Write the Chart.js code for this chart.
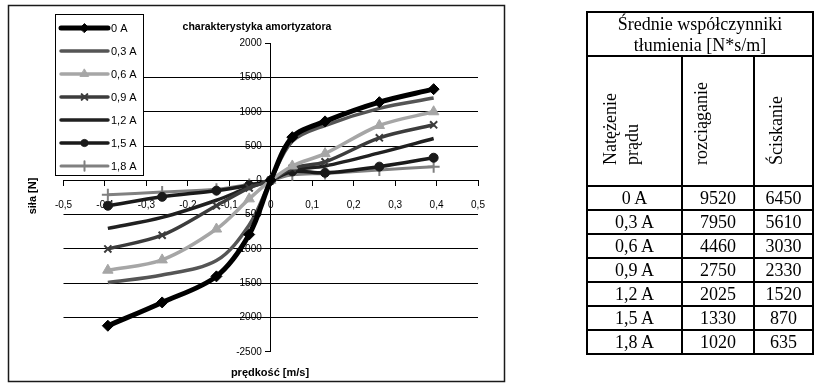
<!DOCTYPE html>
<html>
<head>
<meta charset="utf-8">
<script src="https://cdn.jsdelivr.net/npm/chart.js@4/dist/chart.umd.min.js"></script>
<style>
html,body{margin:0;padding:0;background:#fff;width:816px;height:385px;overflow:hidden;}
#wrap{position:absolute;left:0;top:0;width:520px;height:385px;}
#tbl{position:absolute;left:0;top:0;width:816px;height:385px;font-family:"Liberation Serif","Times New Roman",serif;font-size:18px;color:#000;}
.ln{position:absolute;background:#000;}
.tx{position:absolute;text-align:center;white-space:nowrap;}
.rot{position:absolute;writing-mode:vertical-rl;transform:rotate(180deg);text-align:start;line-height:22px;white-space:nowrap;}
</style>
</head>
<body>
<div id="wrap"><canvas id="c" width="520" height="385"></canvas></div>
<div id="tbl"></div>
<script>
// ---------- data ----------
const velocities = [-0.393, -0.262, -0.131, -0.052, 0, 0.052, 0.131, 0.262, 0.393];
const seriesNames = ['0 A', '0,3 A', '0,6 A', '0,9 A', '1,2 A', '1,5 A', '1,8 A'];
const force0A  = [-2120, -1780, -1400, -790, 0, 630, 860, 1140, 1330];
const force03A = [-1490, -1380, -1170, -650, 0, 570, 800, 1050, 1200];
const force06A = [-1310, -1160, -710, -270, 0, 210, 390, 800, 1000];
const force09A = [-1000, -800, -370, -110, 0, 180, 270, 620, 810];
const force12A = [-700, -540, -290, -100, 0, 150, 210, 400, 610];
const force15A = [-370, -240, -150, -70, 0, 130, 110, 200, 330];
const force18A = [-210, -170, -130, -60, 0, 80, 100, 150, 200];
const gridValues = [1500, 1000, 500, -500, -1000, -1500, -2000];
const chartTitle = 'charakterystyka amortyzatora';
const xTitle = 'prędkość [m/s]';
const yTitle = 'siła [N]';

const tableTitle1 = 'Średnie współczynniki';
const tableTitle2 = 'tłumienia [N*s/m]';
const colHeaders = [['Natężenie', 'prądu'], ['rozciąganie'], ['Ściskanie']];
const rozciaganie = [9520, 7950, 4460, 2750, 2025, 1330, 1020];
const sciskanie = [6450, 5610, 3030, 2330, 1520, 870, 635];

// ---------- chart ----------
const allForces = [force0A, force03A, force06A, force09A, force12A, force15A, force18A];
const styles = [
  {color:'#000000', width:5,   point:'rectRot',  r:5.5, pbw:1},
  {color:'#555555', width:3.5, point:false,      r:0,   pbw:1},
  {color:'#a6a6a6', width:3.5, point:'triangle', r:6,   pbw:1},
  {color:'#3c3c3c', width:3.5, point:'crossRot', r:5,   pbw:2},
  {color:'#202020', width:3.5, point:false,      r:0,   pbw:1},
  {color:'#1a1a1a', width:3.5, point:'circle',   r:4.5, pbw:1},
  {color:'#808080', width:3,   point:'cross',    r:6,   pbw:2}
];
const datasets = seriesNames.map((name, i) => ({
  label: name,
  data: velocities.map((v, j) => ({x: v, y: allForces[i][j]})),
  borderColor: styles[i].color,
  backgroundColor: styles[i].color,
  borderWidth: styles[i].width,
  pointStyle: styles[i].point || 'circle',
  pointRadius: styles[i].point ? styles[i].r : 0,
  pointBorderWidth: styles[i].pbw,
  pointHoverRadius: 0,
  tension: 0.33,
  fill: false
}));

const FONT = '"Liberation Sans", Arial, sans-serif';

const decor = {
  id: 'decor',
  beforeDraw(chart) {
    const c = chart.ctx;
    c.save();
    c.fillStyle = '#fff';
    c.fillRect(0, 0, chart.width, chart.height);
    c.strokeStyle = '#1a1a1a';
    c.lineWidth = 1.5;
    c.strokeRect(8.5, 5.5, 496, 376);
    c.restore();
  },
  afterDraw(chart) {
    const c = chart.ctx;
    c.save();
    // y tick labels, left of the centred axis
    const ys = chart.scales.y, xs = chart.scales.x;
    const ax = xs.getPixelForValue(0);
    c.fillStyle = '#000';
    c.font = '10px ' + FONT;
    c.textAlign = 'right';
    c.textBaseline = 'middle';
    ys.ticks.forEach(t => c.fillText(String(t.value), ax - 9, ys.getPixelForValue(t.value)));

    c.textAlign = 'center';
    c.font = 'bold 10.5px ' + FONT;
    c.fillText(chartTitle, 257, 27);
    c.font = 'bold 11px ' + FONT;
    c.fillText(xTitle, 270, 373);
    c.save();
    c.translate(33, 196);
    c.rotate(-Math.PI / 2);
    c.fillText(yTitle, 0, 0);
    c.restore();
    // legend
    c.fillStyle = '#fff';
    c.fillRect(55.5, 14.5, 88, 161);
    c.strokeStyle = '#000';
    c.lineWidth = 1;
    c.strokeRect(55.5, 14.5, 88, 161);
    chart.data.datasets.forEach((ds, i) => {
      const y = 28 + i * 23;
      c.strokeStyle = ds.borderColor;
      c.lineWidth = ds.borderWidth;
      c.lineCap = 'round';
      c.beginPath();
      c.moveTo(61, y);
      c.lineTo(108, y);
      c.stroke();
      if (ds.pointRadius > 0) {
        c.fillStyle = ds.backgroundColor;
        c.strokeStyle = ds.borderColor;
        c.lineWidth = ds.pointBorderWidth;
        Chart.helpers.drawPoint(c, {pointStyle: ds.pointStyle, rotation: 0, radius: ds.pointRadius * 0.8, borderWidth: ds.pointBorderWidth}, 84.5, y);
      }
      c.fillStyle = '#000';
      c.font = '11px ' + FONT;
      c.textAlign = 'left';
      c.fillText(ds.label, 111, y + 1);
    });
    c.restore();
  }
};

new Chart(document.getElementById('c'), {
  type: 'line',
  data: {datasets},
  options: {
    responsive: false,
    animation: false,
    devicePixelRatio: 1,
    events: [],
    layout: {padding: {left: 63.5, right: 42, top: 43.2, bottom: 33.2}},
    plugins: {legend: {display: false}, title: {display: false}, tooltip: {enabled: false}},
    scales: {
      x: {
        type: 'linear',
        min: -0.5, max: 0.5,
        position: {y: 0},
        border: {display: true, color: '#000', width: 1},
        grid: {drawOnChartArea: false, drawTicks: true, tickLength: 5, tickColor: '#000'},
        ticks: {
          stepSize: 0.1, padding: 14, color: '#000', maxRotation: 0, autoSkip: false,
          font: {family: FONT, size: 10},
          callback: v => { const r = Math.round(v * 10) / 10; return r === 0 ? '0' : r.toFixed(1).replace('.', ','); }
        }
      },
      y: {
        type: 'linear',
        min: -2500, max: 2000,
        position: {x: 0},
        border: {display: true, color: '#000', width: 1},
        grid: {
          drawOnChartArea: true, drawTicks: true, tickLength: 5, tickColor: '#000', lineWidth: 1,
          color: ctx => (ctx.tick && gridValues.includes(ctx.tick.value)) ? '#000' : 'rgba(0,0,0,0)'
        },
        ticks: {
          display: false, stepSize: 500, autoSkip: false,
          font: {family: FONT, size: 10},
          callback: v => String(v)
        }
      }
    }
  },
  plugins: [decor]
});

// ---------- table ----------
const T = document.getElementById('tbl');
const tl = 587, tr = 813, tt = 12;
const colX = [587, 682, 754, 813];
const hdr1B = 56, hdr2B = 186, rowH = 24;
const tb = hdr2B + rowH * rozciaganie.length;
function line(x, y, w, h) {
  const d = document.createElement('div');
  d.className = 'ln';
  d.style.left = x + 'px'; d.style.top = y + 'px';
  d.style.width = w + 'px'; d.style.height = h + 'px';
  T.appendChild(d);
}
function text(str, x, y, w, h, lh) {
  const d = document.createElement('div');
  d.className = 'tx';
  d.style.left = x + 'px'; d.style.top = y + 'px';
  d.style.width = w + 'px'; d.style.height = h + 'px';
  d.style.lineHeight = lh + 'px';
  d.textContent = str;
  T.appendChild(d);
}
line(tl - 1, tt - 1, tr - tl + 2, 2);
line(tl - 1, hdr1B - 1, tr - tl + 2, 2);
for (let i = 0; i <= rozciaganie.length; i++) line(tl - 1, hdr2B + i * rowH - 1, tr - tl + 2, 2);
line(tl - 1, tt - 1, 2, tb - tt + 2);
line(tr - 1, tt - 1, 2, tb - tt + 2);
line(colX[1] - 1, hdr1B, 2, tb - hdr1B);
line(colX[2] - 1, hdr1B, 2, tb - hdr1B);
text(tableTitle1, tl, 14, tr - tl, 21, 21);
text(tableTitle2, tl, 35, tr - tl, 21, 21);
const rotLeft = [599, 690, 765];
colHeaders.forEach((lines, i) => {
  const d = document.createElement('div');
  d.className = 'rot';
  d.style.left = rotLeft[i] + 'px';
  d.style.top = '62px';
  d.style.height = '103px';
  d.style.width = (22 * lines.length) + 'px';
  d.innerHTML = lines.join('<br>');
  T.appendChild(d);
});
seriesNames.forEach((name, i) => {
  const y = hdr2B + i * rowH;
  text(name, colX[0], y, colX[1] - colX[0], rowH, rowH);
  text(String(rozciaganie[i]), colX[1], y, colX[2] - colX[1], rowH, rowH);
  text(String(sciskanie[i]), colX[2], y, colX[3] - colX[2], rowH, rowH);
});
</script>
</body>
</html>
